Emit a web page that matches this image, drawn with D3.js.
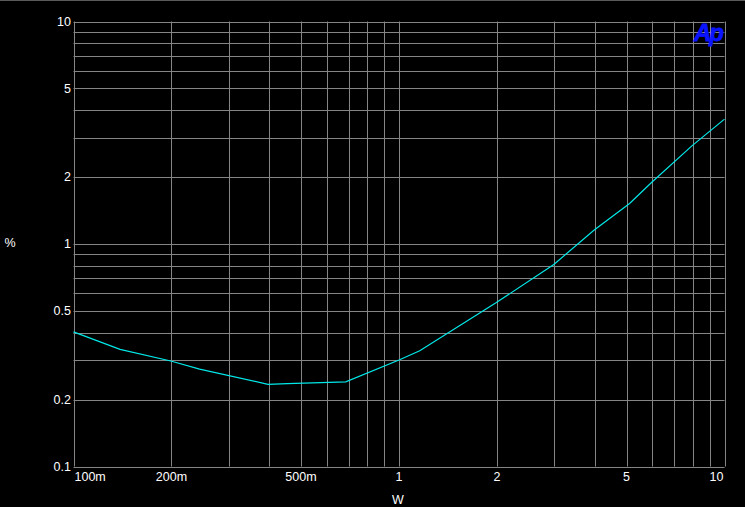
<!DOCTYPE html>
<html><head><meta charset="utf-8">
<script src="https://cdn.jsdelivr.net/npm/d3@7"></script>
<style>html,body{margin:0;padding:0;background:#000;overflow:hidden}</style>
</head><body><svg id="c" width="745" height="507"></svg>
<script>
const powerW = [0.1, 0.139, 0.199, 0.244, 0.396, 0.454, 0.686, 1.0, 1.158, 1.986, 2.99, 3.97, 5.11, 5.99, 7.94, 10];
const thdPct = [0.403, 0.336, 0.298, 0.274, 0.234, 0.236, 0.240, 0.301, 0.331, 0.544, 0.809, 1.153, 1.52, 1.90, 2.76, 3.64];
const xTickVals = [0.1, 0.2, 0.5, 1, 2, 5, 10];
const xTickLabels = ["100m", "200m", "500m", "1", "2", "5", "10"];
const yTickVals = [0.1, 0.2, 0.5, 1, 2, 5, 10];
const yTickLabels = ["0.1", "0.2", "0.5", "1", "2", "5", "10"];

const svg = d3.select("#c");
const L = 73.5, R = 724.5, T = 21.5, B = 466.5;
const x = d3.scaleLog().domain([0.1, 10]).range([L, R]);
const y = d3.scaleLog().domain([0.1, 10]).range([B, T]);
const grid = "#858585";
const font = "Arial, 'Liberation Sans', sans-serif";

svg.append("rect").attr("x",0).attr("y",0).attr("width",745).attr("height",507).attr("fill","#000");
svg.append("rect").attr("x",0).attr("y",0).attr("width",745).attr("height",1).attr("fill","#5a5a5a");

const xg = [], yg = [];
for (let d = 0.1; d < 10; d *= 10) for (let k = 1; k <= 10; k++) xg.push(+(d*k).toPrecision(3));
for (let d = 0.1; d < 10; d *= 10) for (let k = 1; k <= 10; k++) yg.push(+(d*k).toPrecision(3));

svg.append("g").selectAll("line").data(Array.from(new Set(xg))).join("line")
  .attr("x1", d => Math.round(x(d)) + 0.5).attr("x2", d => Math.round(x(d)) + 0.5)
  .attr("y1", T).attr("y2", B).attr("stroke", grid).attr("stroke-width", 1);
svg.append("g").selectAll("line").data(Array.from(new Set(yg))).join("line")
  .attr("y1", d => Math.round(y(d)) + 0.5).attr("y2", d => Math.round(y(d)) + 0.5)
  .attr("x1", L).attr("x2", R).attr("stroke", grid).attr("stroke-width", 1);

// curve
const line = d3.line().x((d,i) => x(powerW[i])).y((d,i) => y(thdPct[i]));
svg.append("path").datum(thdPct).attr("d", line).attr("fill","none")
  .attr("stroke","#00e8e8").attr("stroke-width",1.2);

// x tick labels
svg.append("g").selectAll("text").data(xTickVals).join("text")
  .attr("x", (d,i) => i === 0 ? x(d) + 1 : (i === xTickVals.length-1 ? x(d) - 1 : x(d)))
  .attr("y", 481)
  .attr("text-anchor", (d,i) => i === 0 ? "start" : (i === xTickVals.length-1 ? "end" : "middle"))
  .attr("fill","#fff").attr("font-family", font).attr("font-size", 12.5)
  .text((d,i) => xTickLabels[i]);

// y tick labels
svg.append("g").selectAll("text").data(yTickVals).join("text")
  .attr("x", 71).attr("y", d => y(d)).attr("dy","0.35em")
  .attr("text-anchor","end")
  .attr("fill","#fff").attr("font-family", font).attr("font-size", 12.5)
  .text((d,i) => yTickLabels[i]);

svg.append("text").attr("x", 398).attr("y", 504).attr("text-anchor","middle")
  .attr("fill","#fff").attr("font-family", font).attr("font-size", 12.5).text("W");
svg.append("text").attr("x", 10).attr("y", 243).attr("dy","0.35em").attr("text-anchor","middle")
  .attr("fill","#fff").attr("font-family", font).attr("font-size", 12.5).text("%");

svg.append("text").attr("x", 708).attr("y", 41).attr("text-anchor","middle")
  .attr("fill","#0a14ff").attr("stroke","#0a14ff").attr("stroke-width",0.8)
  .attr("font-family", font).attr("font-size", 24)
  .attr("font-weight","bold").attr("font-style","italic").attr("letter-spacing","-2").text("Ap");
</script></body></html>
